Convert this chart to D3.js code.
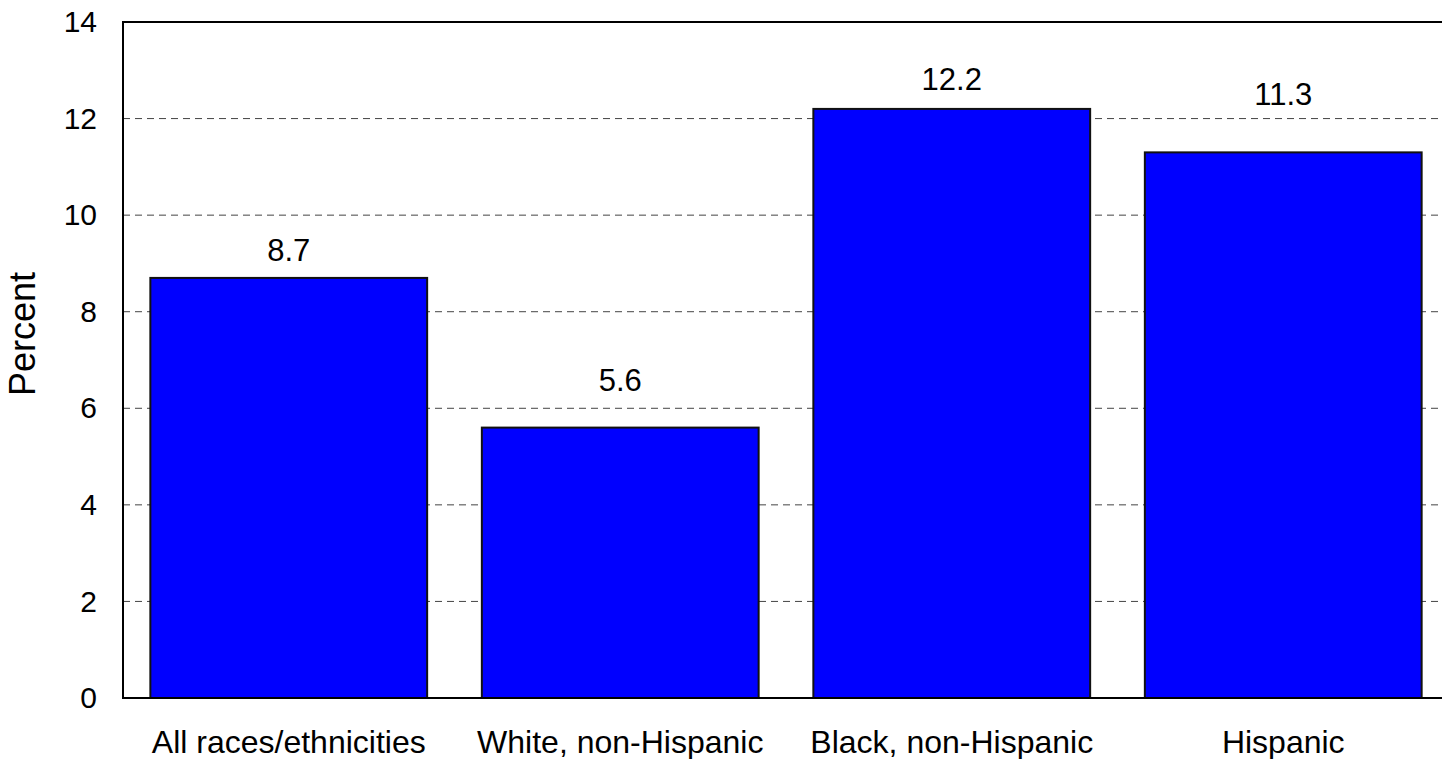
<!DOCTYPE html>
<html>
<head>
<meta charset="utf-8">
<script src="https://cdn.jsdelivr.net/npm/d3@7"></script>
<style>
  html, body { margin: 0; padding: 0; background: #fff; overflow: hidden; }
  svg { display: block; font-family: "Liberation Sans", Arial, sans-serif; }
</style>
</head>
<body>
<svg id="chart" width="1442" height="759"></svg>
<script>
const categories = ["All races/ethnicities", "White, non-Hispanic", "Black, non-Hispanic", "Hispanic"];
const values = [8.7, 5.6, 12.2, 11.3];
const valueLabels = ["8.7", "5.6", "12.2", "11.3"];
const labelAt = [9.05, 6.36, 12.59, 12.28];
const yTicks = [0, 2, 4, 6, 8, 10, 12, 14];
const yTitle = "Percent";

(function () {
const svg = d3.select("#chart");
const pLeft = 123, pRight = 1449, pTop = 22, pBottom = 698;

const x = d3.scaleBand().domain(categories).range([pLeft, pRight]).paddingInner(0.165).paddingOuter(0.0825);
const y = d3.scaleLinear().domain([0, 14]).range([pBottom, pTop]);

// gridlines
svg.append("g").selectAll("line").data(yTicks.filter(d => d > 0 && d < 14)).join("line")
  .attr("x1", pLeft).attr("x2", pRight)
  .attr("y1", d => y(d)).attr("y2", d => y(d))
  .attr("stroke", "#444").attr("stroke-width", 1).attr("stroke-dasharray", "7,5");

// bars
svg.append("g").selectAll("rect").data(values).join("rect")
  .attr("x", (d, i) => x(categories[i]))
  .attr("width", x.bandwidth())
  .attr("y", d => y(d))
  .attr("height", d => y(0) - y(d))
  .attr("fill", "#0000ff")
  .attr("stroke", "#111").attr("stroke-width", 2);

// frame
svg.append("rect").attr("x", pLeft).attr("y", pTop).attr("width", pRight - pLeft).attr("height", pBottom - pTop)
  .attr("fill", "none").attr("stroke", "#000").attr("stroke-width", 2);

// y axis labels
const yAxis = d3.axisLeft(y).tickValues(yTicks).tickSize(0).tickPadding(26).tickFormat(d3.format("d"));
const ya = svg.append("g").attr("transform", `translate(${pLeft},0)`).call(yAxis);
ya.select(".domain").remove();
ya.selectAll("text").attr("font-size", 30).attr("fill", "#000").attr("font-family", "Liberation Sans, Arial, sans-serif");

// x axis labels
const xAxis = d3.axisBottom(x).tickSize(0).tickPadding(32);
const xa = svg.append("g").attr("transform", `translate(0,${pBottom})`).call(xAxis);
xa.select(".domain").remove();
xa.selectAll("text").attr("font-size", 32).attr("fill", "#000").attr("font-family", "Liberation Sans, Arial, sans-serif");

// value labels
svg.append("g").selectAll("text").data(valueLabels).join("text")
  .attr("x", (d, i) => x(categories[i]) + x.bandwidth() / 2)
  .attr("y", (d, i) => y(labelAt[i]))
  .attr("text-anchor", "middle")
  .attr("font-size", 31)
  .attr("fill", "#000")
  .text(d => d);

// y title
svg.append("text")
  .attr("transform", "translate(35,334) rotate(-90)")
  .attr("text-anchor", "middle")
  .attr("font-size", 36)
  .attr("fill", "#000")
  .text(yTitle);
})();
</script>
</body>
</html>
